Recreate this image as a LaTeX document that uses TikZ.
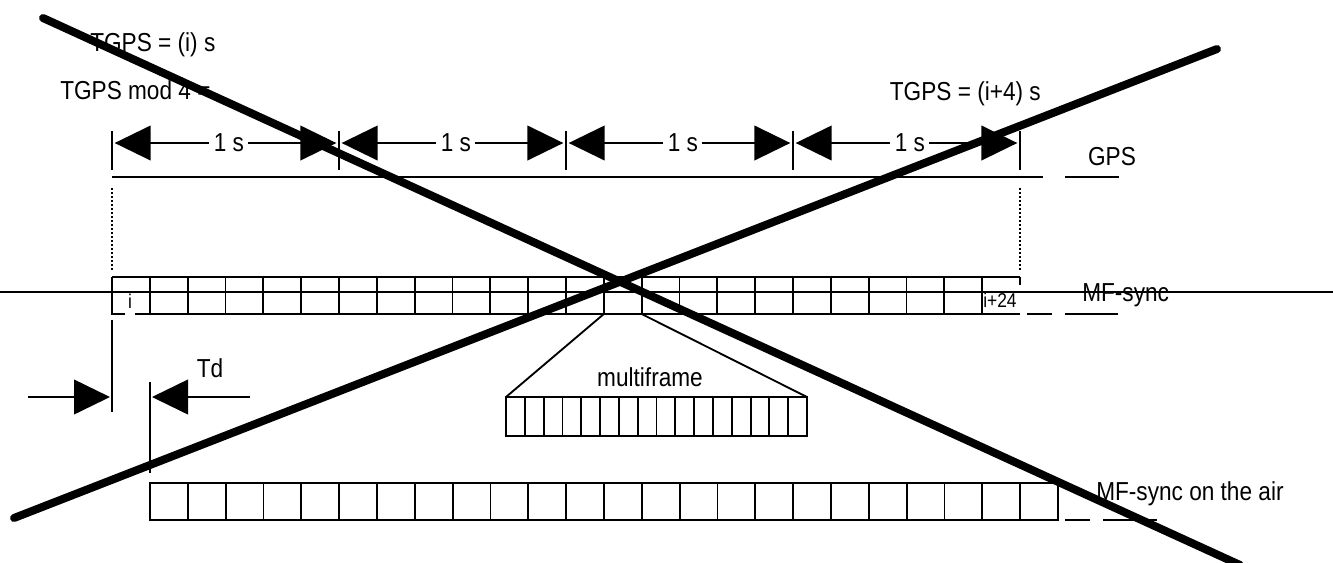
\documentclass[tikz,border=0pt]{standalone}
\usepackage{fontspec}
\usepackage{graphicx}
\setmainfont{Liberation Sans}
\usetikzlibrary{arrows.meta}
\newcommand\nt[1]{\scalebox{0.87}[1]{#1}}
\begin{document}
\begin{tikzpicture}[x=0.75pt,y=-0.75pt,
  thinline/.style={line width=1.4pt},
  bigtri/.style={-{Triangle[length=27pt,width=26pt]}},
  lbl/.style={font=\fontsize{19.5}{23}\selectfont, inner sep=0pt},
  dimlbl/.style={font=\fontsize{19.5}{23}\selectfont, inner sep=3pt},
  smalllbl/.style={font=\fontsize{15}{18}\selectfont, inner sep=0pt},
  cross/.style={line width=6pt, line cap=round}]
\useasboundingbox (0,0) rectangle (1333,562);

% top texts
\node[lbl, anchor=west] (tgpsi) at (90,45) {\nt{TGPS = (i) s}};
\node[lbl, anchor=west] (tgpsmod) at (60,90) {\nt{TGPS mod 4 =}};
\node[lbl, anchor=east] (tgpsi4) at (1041,94) {\nt{TGPS = (i+4) s}};
\node[lbl] (gpslbl) at (1112,157) {\nt{GPS}};

% ticks and 1 s dimension arrows
\foreach \i/\x in {0/112,1/339,2/566,3/793,4/1020}{
  \coordinate (t\i) at (\x,143);
  \draw[thinline] (\x,131) -- (\x,170);
}
\foreach \i/\j in {0/1,1/2,2/3,3/4}{
  \path (t\i) -- (t\j) node[dimlbl, midway, xshift=2.5] (s\i) {\nt{1 s}};
  \draw[thinline, bigtri] (s\i.west) -- ([xshift=2]t\i);
  \draw[thinline, bigtri] (s\i.east) -- ([xshift=-2]t\j);
}

% GPS line
\coordinate (g0) at (112,177);
\coordinate (g1) at (1043,177);
\coordinate (g2) at (1065,177);
\coordinate (g3) at (1119,177);
\draw[thinline] (g0) -- (g1);
\draw[thinline] (g2) -- (g3);

% dotted guides
\draw[line width=1pt, dash pattern=on 1.5pt off 1.5pt] (112,188) -- (112,270);
\draw[line width=1pt, dash pattern=on 1.5pt off 1.5pt] (1020,188) -- (1020,270);

% MF-sync row
\draw[thinline] (112,277) -- (1020,277);
\draw[thinline] (112,277) -- (112,314) -- (125,314);
\draw[thinline] (135,314) -- (1020,314);
\draw[thinline] (1020,277) -- (1020,285);
\foreach \k in {1,...,23}{
  \draw[thinline] ({112+\k*37.8333},277) -- ++(0,37);
}
\draw[thinline] (1027,314) -- (1052,314);
\draw[thinline] (1065,314) -- (1118,314);
\node[smalllbl] (ifirst) at (130,301) {\nt{i}};
\node[smalllbl, anchor=west] (ilast) at (983,300) {\nt{i+24}};
\node[lbl, anchor=west] (mfsync) at (1082,295) {\nt{MF-sync}};

% through line
\draw[line width=1.2pt] (0,292) -- (1333,292);

% multiframe expansion
\coordinate (ca) at ({112+13*37.8333},314);
\coordinate (cb) at ({112+14*37.8333},314);
\coordinate (ma) at (506,397);
\coordinate (mb) at (807,397);
\draw[thinline] (ca) -- (ma);
\draw[thinline] (cb) -- (mb);
\draw[thinline] (506,397) rectangle (807,436);
\foreach \k in {1,...,15}{
  \draw[thinline] ({506+\k*18.8125},397) -- ++(0,39);
}
\node[lbl] (mflbl) at (650,377) {\nt{multiframe}};

% Td
\draw[thinline] (112,320) -- (112,412);
\coordinate (la) at (28,397);
\coordinate (lb) at (110,397);
\draw[thinline, bigtri] (la) -- (lb);
\draw[thinline] (150,382) -- (150,473);
\coordinate (ra) at (250,397);
\coordinate (rb) at (152,397);
\draw[thinline, bigtri] (ra) -- (rb);
\node[lbl] (td) at (210,368) {\nt{Td}};

% MF-sync on the air row
\draw[thinline] (150,483) rectangle (1058,520);
\foreach \k in {1,...,23}{
  \draw[thinline] ({150+\k*37.8333},483) -- ++(0,37);
}
\draw[thinline] (1065,520) -- (1090,520);
\draw[thinline] (1103,520) -- (1157,520);
\node[lbl, anchor=west] (mfair) at (1096,494) {\nt{MF-sync on the air}};

% big cross
\coordinate (x1a) at (43,18);
\coordinate (x1b) at (1240,565);
\coordinate (x2a) at (14,518);
\coordinate (x2b) at (1217,49);
\draw[cross] (x1a) -- (x1b);
\draw[cross] (x2a) -- (x2b);
\end{tikzpicture}
\end{document}
